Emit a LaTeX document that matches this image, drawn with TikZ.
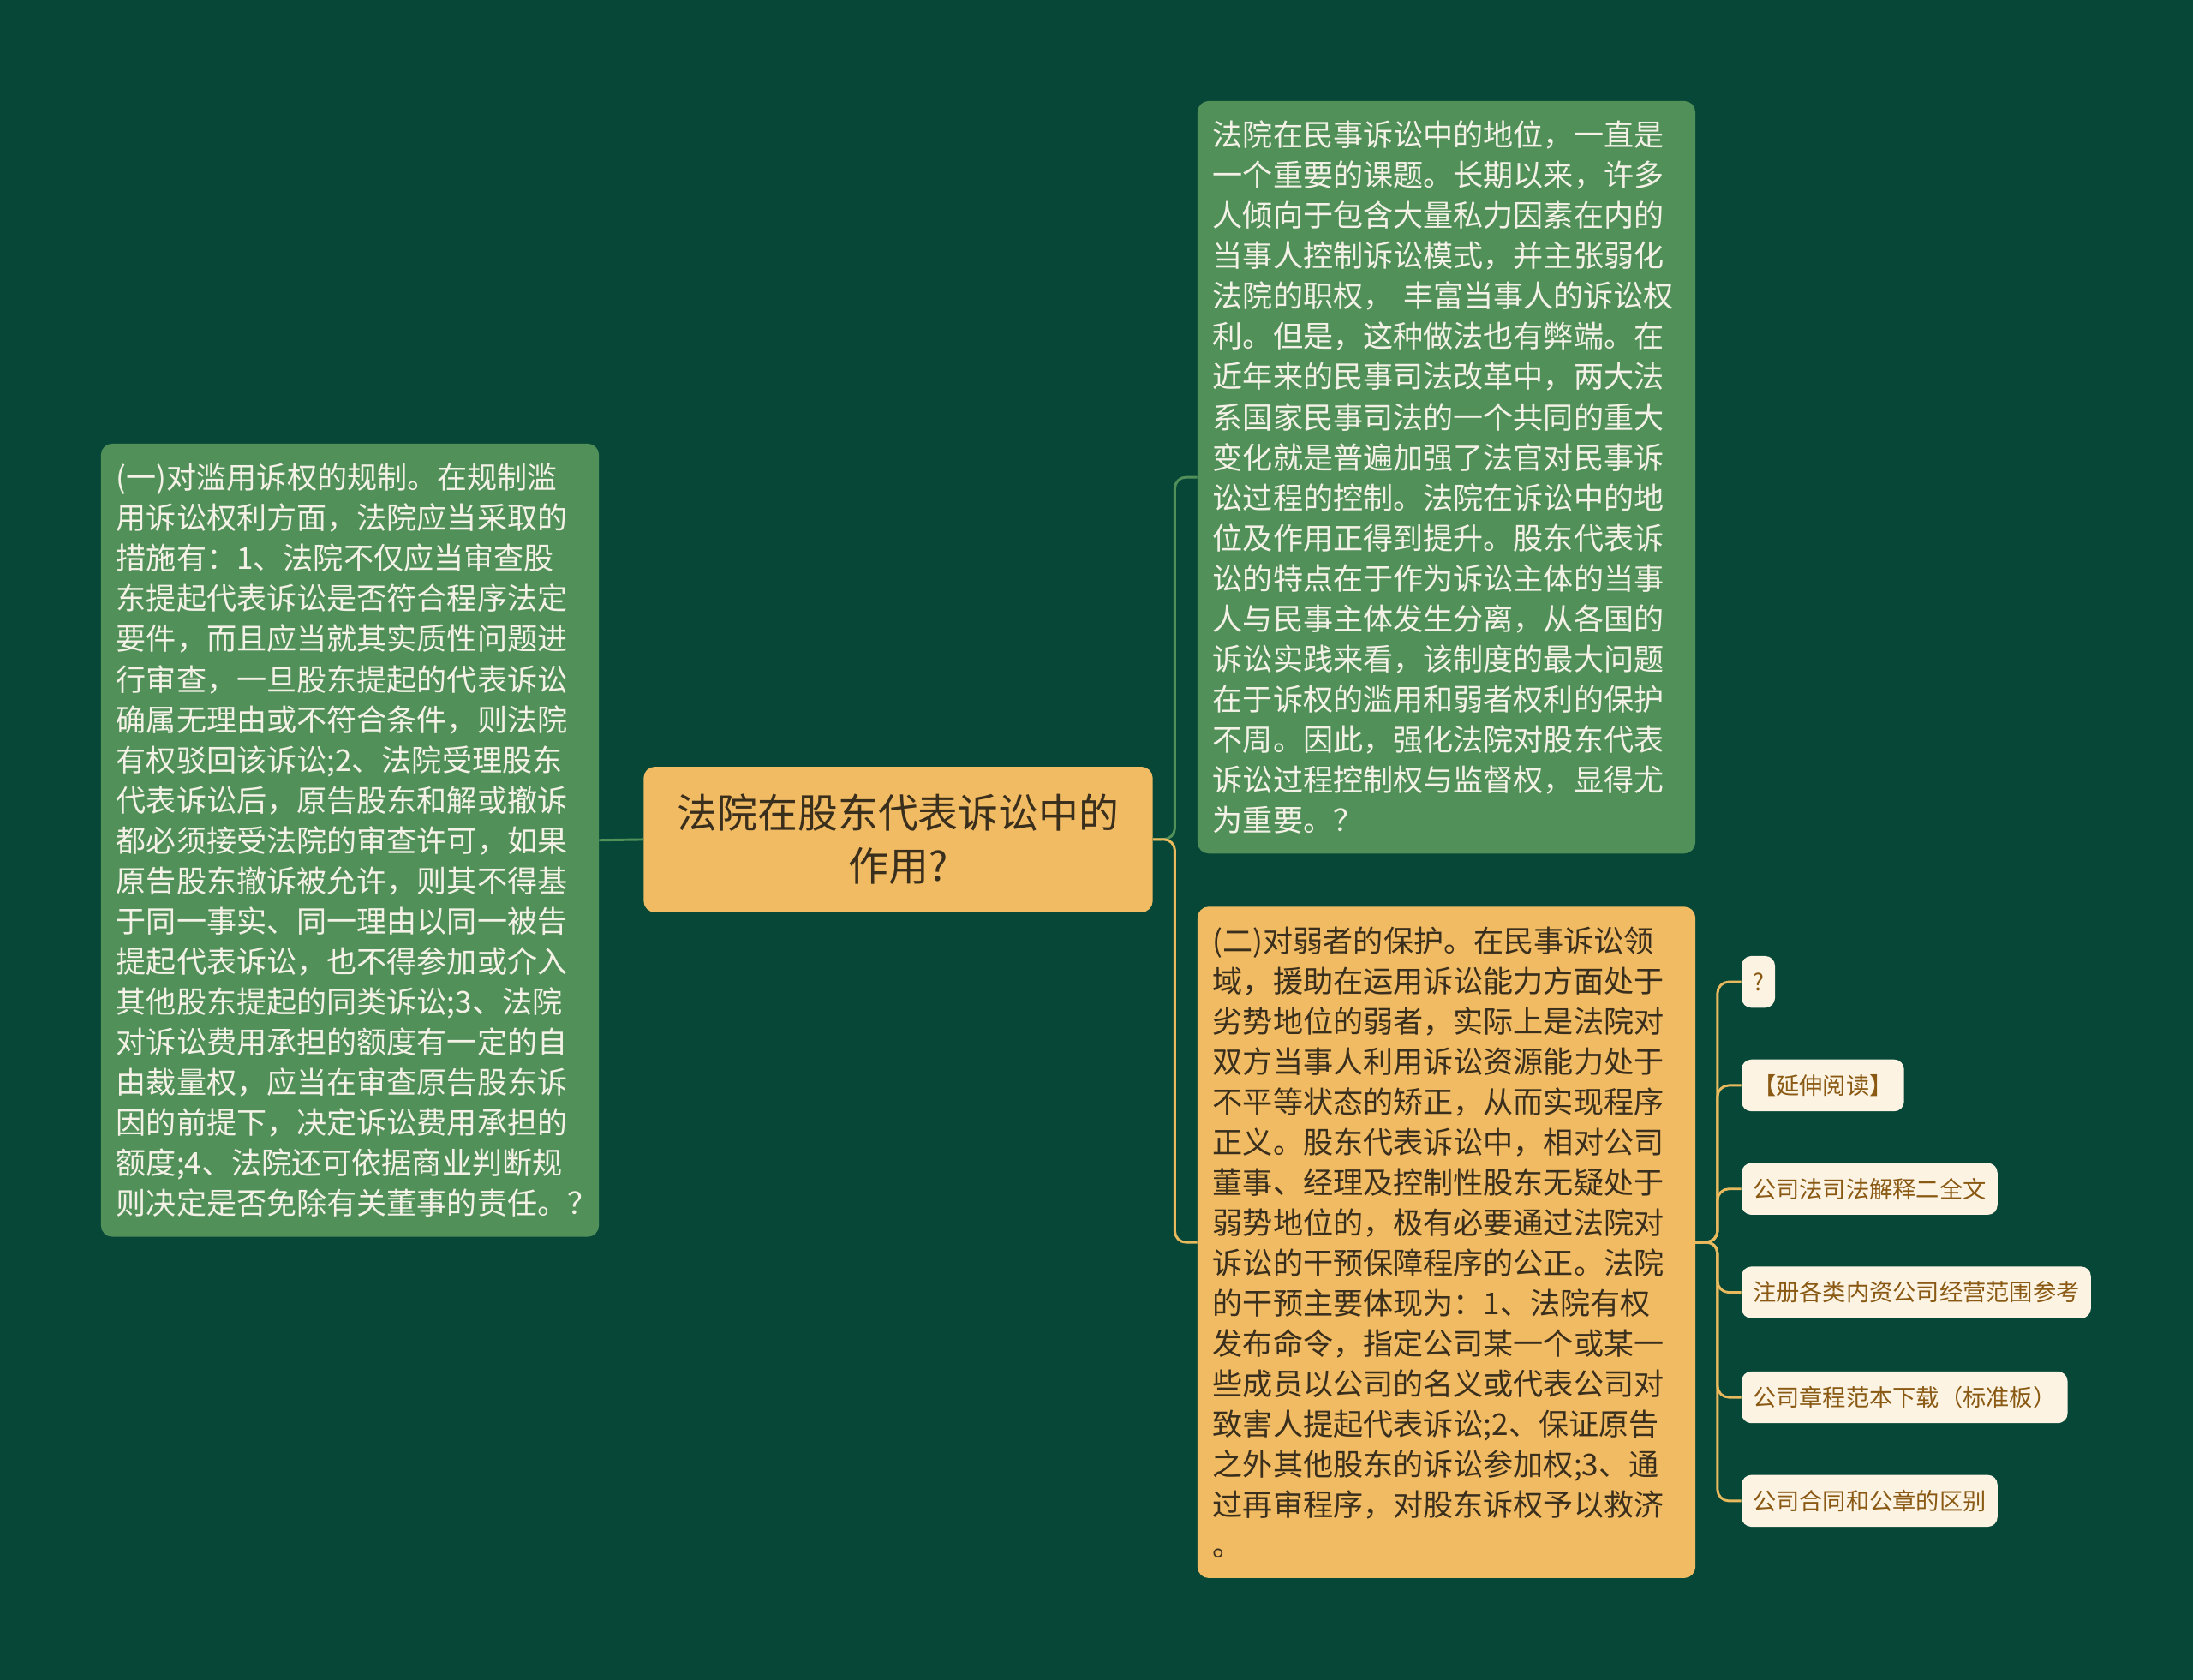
\documentclass[tikz,border=0pt]{standalone}
\usepackage{fontspec}
\newfontfamily\cjkfont{Noto Sans CJK SC}
\definecolor{bgdark}{HTML}{064737}
\definecolor{boxgreen}{HTML}{52905A}
\definecolor{boxorange}{HTML}{F0BB62}
\definecolor{leaffill}{HTML}{FCF3E3}
\definecolor{leaftext}{HTML}{8A5A14}
\definecolor{darktext}{HTML}{3A2E1D}
\definecolor{lighttext}{HTML}{F4F2E6}
\definecolor{lineorange}{HTML}{E9B95E}

\begin{document}
\begin{tikzpicture}[x=1pt,y=-1pt,
  bigbox/.style={rectangle,rounded corners=8pt,align=left,text width=334pt,inner xsep=11pt,inner ysep=0pt,minimum width=356pt,anchor=north west,font=\cjkfont\fontsize{21.5}{28.8}\selectfont},
  greenbox/.style={bigbox,fill=boxgreen,text=lighttext},
  orangebox/.style={bigbox,fill=boxorange,text=darktext},
  rootbox/.style={rectangle,rounded corners=8pt,fill=boxorange,text=darktext,align=center,minimum width=364pt,minimum height=104pt,anchor=north west,font=\cjkfont\fontsize{28.7}{38}\selectfont},
  leaf/.style={rectangle,rounded corners=7pt,fill=leaffill,text=leaftext,inner xsep=8pt,inner ysep=0pt,minimum height=37pt,anchor=west,font=\cjkfont\fontsize{16.7}{20}\selectfont}]
\def\trunkMain{840}
\def\trunkLeaf{1228}
\def\leafX{1245}
\useasboundingbox (0,0) rectangle (1568,1201);
\fill[bgdark] (0,0) rectangle (1568,1201);
%\draw[help lines,step=50] (0,0) grid (1568,1201);
\path
(460,548) node [rootbox] (root) {法院在股东代表诉讼中的\\作用?}
(72,317) node [greenbox,minimum height=567pt] (abuse) {(一)对滥用诉权的规制。在规制滥\\用诉讼权利方面，法院应当采取的\\措施有：1、法院不仅应当审查股\\东提起代表诉讼是否符合程序法定\\要件，而且应当就其实质性问题进\\行审查，一旦股东提起的代表诉讼\\确属无理由或不符合条件，则法院\\有权驳回该诉讼;2、法院受理股东\\代表诉讼后，原告股东和解或撤诉\\都必须接受法院的审查许可，如果\\原告股东撤诉被允许，则其不得基\\于同一事实、同一理由以同一被告\\提起代表诉讼，也不得参加或介入\\其他股东提起的同类诉讼;3、法院\\对诉讼费用承担的额度有一定的自\\由裁量权，应当在审查原告股东诉\\因的前提下，决定诉讼费用承担的\\额度;4、法院还可依据商业判断规\\则决定是否免除有关董事的责任。？}
(856,72) node [greenbox,minimum height=538pt] (status) {法院在民事诉讼中的地位，一直是\\一个重要的课题。长期以来，许多\\人倾向于包含大量私力因素在内的\\当事人控制诉讼模式，并主张弱化\\法院的职权，~丰富当事人的诉讼权\\利。但是，这种做法也有弊端。在\\近年来的民事司法改革中，两大法\\系国家民事司法的一个共同的重大\\变化就是普遍加强了法官对民事诉\\讼过程的控制。法院在诉讼中的地\\位及作用正得到提升。股东代表诉\\讼的特点在于作为诉讼主体的当事\\人与民事主体发生分离，从各国的\\诉讼实践来看，该制度的最大问题\\在于诉权的滥用和弱者权利的保护\\不周。因此，强化法院对股东代表\\诉讼过程控制权与监督权，显得尤\\为重要。？}
(856,648) node [orangebox,minimum height=480pt] (weak) {(二)对弱者的保护。在民事诉讼领\\域，援助在运用诉讼能力方面处于\\劣势地位的弱者，实际上是法院对\\双方当事人利用诉讼资源能力处于\\不平等状态的矫正，从而实现程序\\正义。股东代表诉讼中，相对公司\\董事、经理及控制性股东无疑处于\\弱势地位的，极有必要通过法院对\\诉讼的干预保障程序的公正。法院\\的干预主要体现为：1、法院有权\\发布命令，指定公司某一个或某一\\些成员以公司的名义或代表公司对\\致害人提起代表诉讼;2、保证原告\\之外其他股东的诉讼参加权;3、通\\过再审程序，对股东诉权予以救济\\。}
(\leafX,702) node [leaf] (q) {?}
(\leafX,776) node [leaf] (more) {【延伸阅读】}
(\leafX,850) node [leaf] (law) {公司法司法解释二全文}
(\leafX,924) node [leaf] (scope) {注册各类内资公司经营范围参考}
(\leafX,999) node [leaf] (charter) {公司章程范本下载（标准板）}
(\leafX,1073) node [leaf] (seal) {公司合同和公章的区别}
;

\begin{scope}[line width=1.8pt,rounded corners=8pt]
\draw[boxgreen] (root.west) -- (abuse.east);
\draw[boxgreen] (root.east) -- (\trunkMain,600) |- (status.west);
\draw[lineorange] (root.east) -- (\trunkMain,600) |- (weak.west);
\foreach \n in {q,more,law,scope,charter,seal}
  \draw[lineorange] (weak.east) -- (\trunkLeaf,888) |- (\n.west);
\end{scope}

\end{tikzpicture}
\end{document}
